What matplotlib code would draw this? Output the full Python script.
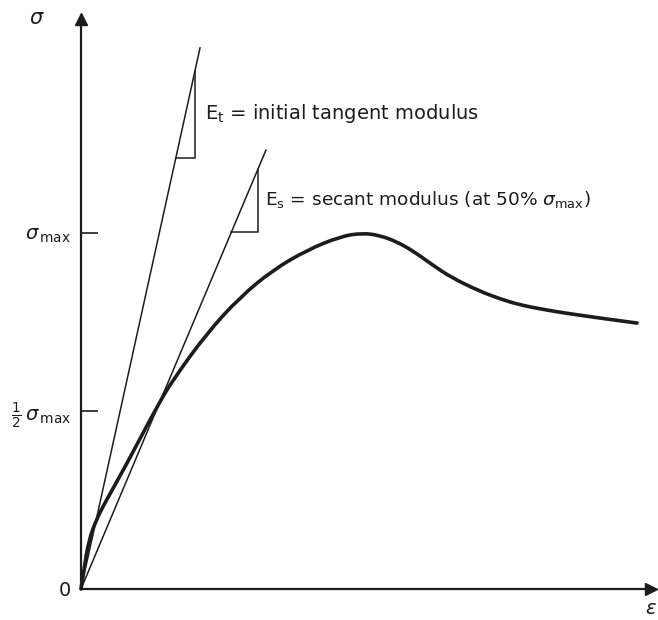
import matplotlib.pyplot as plt
from matplotlib.path import Path
from matplotlib.patches import PathPatch

plt.rcParams['font.family'] = ['DejaVu Sans']
plt.rcParams['mathtext.fontset'] = 'dejavusans'

INK = '#1c1c1c'

# stress-strain curve, stress in units of sigma_max
strain = [0.0, 0.008, 0.022, 0.045, 0.070, 0.124, 0.216, 0.258, 0.354, 0.447,
          0.539, 0.635, 0.728, 0.790, 0.840, 0.888, 0.935, 0.985, 1.040, 1.121,
          1.180, 1.233, 1.300, 1.360, 1.458, 1.562]
stress = [0.0, 0.053, 0.138, 0.199, 0.247, 0.343, 0.517, 0.587, 0.719, 0.820,
          0.896, 0.952, 0.990, 1.000, 0.993, 0.975, 0.948, 0.912, 0.875, 0.836,
          0.814, 0.798, 0.785, 0.775, 0.761, 0.747]

# modulus lines through the origin
tangent_slope = 4.546
secant_slope = 2.373
tangent_top = 1.52
secant_top = 1.233

# slope triangles: (x of vertical leg, y of horizontal leg)
tangent_tri = (0.320, 1.211)
secant_tri = (0.497, 1.003)

ytick_vals = [0.0, 0.5, 1.0]
ytick_labels = ['0', r'$\frac{1}{2}\,\sigma_{\,\rm max}$', r'$\sigma_{\,\rm max}$']


def smooth_path(xs, ys):
    # quadratic B-spline through the midpoints, control points at the data
    pts = list(zip(xs, ys))
    verts = [pts[0]]
    codes = [Path.MOVETO]
    mid = lambda a, b: ((a[0] + b[0]) / 2, (a[1] + b[1]) / 2)
    verts.append(mid(pts[0], pts[1]))
    codes.append(Path.LINETO)
    for i in range(1, len(pts) - 1):
        verts += [pts[i], mid(pts[i], pts[i + 1])]
        codes += [Path.CURVE3, Path.CURVE3]
    verts.append(pts[-1])
    codes.append(Path.LINETO)
    return Path(verts, codes)


fig = plt.figure(figsize=(6.58, 6.20), dpi=100)
ax = fig.add_axes([0, 0, 1, 1])
ax.set_xlim(-0.2275, 1.6208)
ax.set_ylim(-0.0871, 1.6545)

# axes drawn through the origin with arrow heads
for side in ['top', 'right']:
    ax.spines[side].set_visible(False)
ax.spines['left'].set_position(('data', 0))
ax.spines['bottom'].set_position(('data', 0))
ax.spines['left'].set_bounds(0, 1.60)
ax.spines['bottom'].set_bounds(0, 1.60)
for side in ['left', 'bottom']:
    ax.spines[side].set_linewidth(1.6)
    ax.spines[side].set_color(INK)
ax.plot(0, 1.60, marker='^', ms=8, color=INK, clip_on=False)
ax.plot(1.60, 0, marker='>', ms=8, color=INK, clip_on=False)

ax.set_xticks([])
ax.set_yticks(ytick_vals)
ax.set_yticklabels(ytick_labels, fontsize=14, color=INK)
ax.tick_params(axis='y', direction='in', length=12, width=1.2, color=INK, pad=7)

ax.text(-0.125, 1.605, r'$\sigma$', fontsize=15, color=INK, ha='center', va='center')
ax.text(1.60, -0.055, r'$\epsilon$', fontsize=14, color=INK, ha='center', va='center')

# curve and modulus lines
ax.add_patch(PathPatch(smooth_path(strain, stress), facecolor='none',
                       edgecolor=INK, lw=2.6, capstyle='round'))
ax.plot([0, tangent_top / tangent_slope], [0, tangent_top], color=INK, lw=1.1)
ax.plot([0, secant_top / secant_slope], [0, secant_top], color=INK, lw=1.1)

for slope, (vx, hy) in [(tangent_slope, tangent_tri), (secant_slope, secant_tri)]:
    ax.plot([hy / slope, vx, vx], [hy, hy, vx * slope], color=INK, lw=1.1)

ax.text(0.348, 1.336, r'E$_{\rm t}$ = initial tangent modulus', fontsize=14,
        color=INK, va='center')
ax.text(0.517, 1.095, r'E$_{\rm s}$ = secant modulus (at 50% $\sigma_{\rm max}$)',
        fontsize=13.3, color=INK, va='center')

fig.savefig('out.png', dpi=100, facecolor='white')
